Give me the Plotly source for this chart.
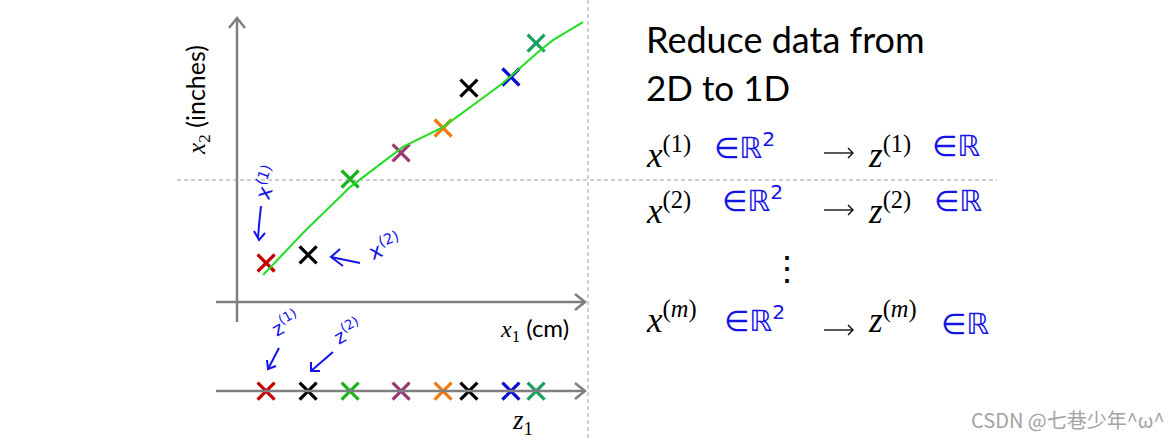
import plotly.graph_objects as go

# ---------------- data (chart units: 1 unit = 30 px) ----------------
x1 = [0.97, 2.37, 3.77, 5.47, 6.87, 7.73, 9.13, 9.97]
x2 = [1.30, 1.57, 4.10, 4.97, 5.80, 7.13, 7.50, 8.63]
z1 = [0.97, 2.37, 3.77, 5.47, 6.87, 7.73, 9.13, 9.97]
point_colors = ['#c40000', '#000000', '#1cb41c', '#9a3a72', '#f27a12',
                '#000000', '#0a0ad2', '#18a05e']
fit_x1 = [0.87, 2.20, 3.77, 5.53, 6.87, 8.87, 10.00, 10.53, 11.53]
fit_x2 = [0.90, 2.30, 3.83, 5.17, 5.83, 7.30, 8.30, 8.73, 9.33]
z_level = -2.97

# ---------------- geometry helpers ----------------
U, OX, OY = 30.0, 237.0, 302.0
W, H = 1174, 441


def P(px, py):
    return ((px - OX) / U, (OY - py) / U)


def path(points):
    s = ''
    for i, (px, py) in enumerate(points):
        x, y = P(px, py)
        s += ('M' if i == 0 else 'L') + f'{x:.4f},{y:.4f} '
    return s


GRAY = '#7f7f7f'
BLUE = '#1414e6'
shapes = []


def seg(pts, color=GRAY, width=2.5, dash='solid'):
    shapes.append(dict(type='path', path=path(pts), xref='x', yref='y',
                       line=dict(color=color, width=width, dash=dash)))


# dashed guide lines
seg([(588, 0), (588, 441)], color='#a0a0a0', width=1, dash='4px,3px')
seg([(177, 180), (997, 180)], color='#a0a0a0', width=1, dash='4px,3px')
# axes
seg([(237, 18), (237, 322)])
seg([(229, 28), (237, 18), (245, 28)])
seg([(216, 302), (585, 302)])
seg([(575, 294), (585, 302), (575, 310)])
seg([(216, 391), (585, 391)])
seg([(575, 383), (585, 391), (575, 399)])
# hand-drawn arrows
seg([(261, 206), (259, 225), (258, 238)], color=BLUE, width=2)
seg([(254, 231), (259, 240), (265, 233)], color=BLUE, width=2)
seg([(331, 257), (360, 263)], color=BLUE, width=2)
seg([(340, 249), (331, 257), (343, 266)], color=BLUE, width=2)
seg([(279, 348), (268, 369)], color=BLUE, width=2)
seg([(267, 360), (268, 369), (276, 366)], color=BLUE, width=2)
seg([(333, 352), (311, 371)], color=BLUE, width=2)
seg([(311, 362), (311, 371), (320, 371)], color=BLUE, width=2)
# math arrows (long, thin)
for ya in (153, 210, 330):
    seg([(824, ya), (853, ya)], color='#000000', width=1.3)
    seg([(848, ya - 5), (853, ya), (848, ya + 5)], color='#000000', width=1.3)

annotations = []


def ann(text, px, py, size, color='#000000', family='Lato', angle=0,
        xanchor='center', yanchor='middle'):
    x, y = P(px, py)
    annotations.append(dict(text=text, x=x, y=y, xref='x', yref='y',
                            showarrow=False, textangle=angle,
                            xanchor=xanchor, yanchor=yanchor,
                            font=dict(size=size, color=color, family=family)))


SERIF = 'Liberation Serif'
HAND = 'DejaVu Sans'

ann('Reduce data from', 644, 39, 36, xanchor='left')
ann('2D to 1D', 644, 87, 35, xanchor='left')

rows = [('1', 152), ('2', 208), ('<i>m</i>', 317)]
for sup, yc in rows:
    ann(f'<i>x</i><sup>({sup})</sup>', 644, yc, 35, family=SERIF, xanchor='left')
    ann(f'<i>z</i><sup>({sup})</sup>', 866, yc, 35, family=SERIF, xanchor='left')

ann('∈ℝ<sup>2</sup>', 712, 146, 29, color=BLUE, family=HAND, xanchor='left')
ann('∈ℝ', 930, 146, 29, color=BLUE, family=HAND, xanchor='left')
ann('∈ℝ<sup>2</sup>', 720, 199, 29, color=BLUE, family=HAND, xanchor='left')
ann('∈ℝ', 932, 201, 29, color=BLUE, family=HAND, xanchor='left')
ann('∈ℝ<sup>2</sup>', 722, 319, 29, color=BLUE, family=HAND, xanchor='left')
ann('∈ℝ', 939, 324, 29, color=BLUE, family=HAND, xanchor='left')
ann('⋮', 787, 268, 34, family=SERIF)

# axis labels
ann(f"<span style='font-family:{SERIF}'><i>x</i><sub>2</sub></span> (inches)",
    197, 100, 25, angle=-90)
ann(f"<span style='font-family:{SERIF}'><i>x</i><sub>1</sub></span> (cm)",
    534, 329, 24)
ann('<i>z</i><sub>1</sub>', 522, 422, 27, family=SERIF)

# handwritten labels
ann('x<sup>(1)</sup>', 266, 183, 21, color=BLUE, family=HAND, angle=-70)
ann('x<sup>(2)</sup>', 384, 246, 21, color=BLUE, family=HAND, angle=-22)
ann('z<sup>(1)</sup>', 285, 323, 19, color=BLUE, family=HAND, angle=-30)
ann('z<sup>(2)</sup>', 347, 331, 19, color=BLUE, family=HAND, angle=-30)

# watermark
ann('CSDN @七巷少年^ω^', 1068, 419, 20, color='#a4a4a4',
    family='Noto Sans CJK SC')

fig = go.Figure()
fig.add_trace(go.Scatter(
    x=x1, y=x2, mode='markers',
    marker=dict(symbol='x-thin', size=17, color=point_colors,
                line=dict(color=point_colors, width=3.2)),
    hoverinfo='skip'))
fig.add_trace(go.Scatter(
    x=z1, y=[z_level] * len(z1), mode='markers',
    marker=dict(symbol='x-thin', size=17, color=point_colors,
                line=dict(color=point_colors, width=3.2)),
    hoverinfo='skip'))
fig.add_trace(go.Scatter(
    x=fit_x1, y=fit_x2, mode='lines', line=dict(color='#22dd22', width=2),
    hoverinfo='skip'))

fig.update_layout(
    width=W, height=H, margin=dict(l=0, r=0, t=0, b=0),
    paper_bgcolor='white', plot_bgcolor='white', showlegend=False,
    xaxis=dict(range=[(0 - OX) / U, (W - OX) / U], visible=False,
               fixedrange=True),
    yaxis=dict(range=[(OY - H) / U, OY / U], visible=False, fixedrange=True),
    shapes=shapes, annotations=annotations)

fig.write_html('out.html', config={'displayModeBar': False},
               post_script="document.body.style.margin='0';"
                           "document.body.style.overflow='hidden';")
